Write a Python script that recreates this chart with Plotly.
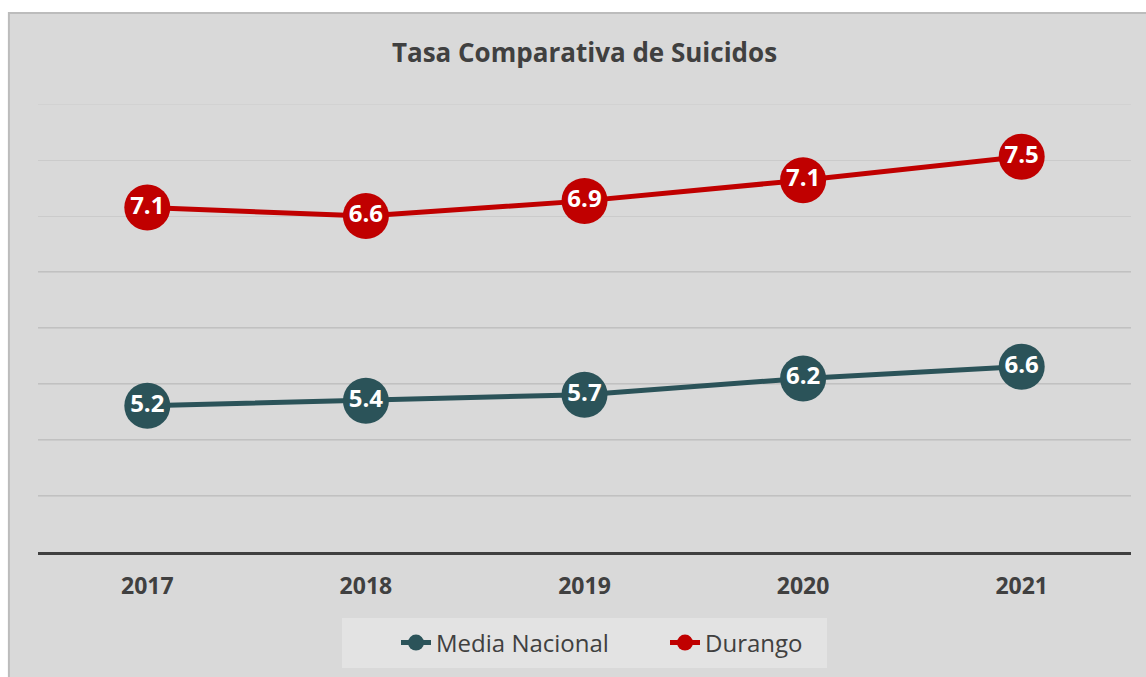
import plotly.graph_objects as go

# ---- data ----
years = ["2017", "2018", "2019", "2020", "2021"]
# values printed in the data labels
media_nacional_labels = [5.2, 5.4, 5.7, 6.2, 6.6]
durango_labels = [7.1, 6.6, 6.9, 7.1, 7.5]
# plotted heights as read against the chart's (hidden) value axis, 0-8
media_nacional_plot = [2.61, 2.70, 2.81, 3.10, 3.31]
durango_plot = [6.15, 6.00, 6.27, 6.64, 7.06]

series_names = ["Media Nacional", "Durango"]
colors = ["#2b5359", "#c00000"]

W, H = 1146, 677
L, R, T, B = 38, 15, 104, 125
pw, ph = W - L - R, H - T - B


def px_x(p):
    return (p - L) / pw


def px_y(p):
    return (H - B - p) / ph


fig = go.Figure()
for name, yv, col in zip(series_names, [media_nacional_plot, durango_plot], colors):
    fig.add_trace(go.Scatter(
        x=years, y=yv, name=name, mode="lines+markers",
        line=dict(color=col, width=5),
        marker=dict(color=col, size=46),
        hoverinfo="skip",
    ))
for yv, lab in zip([media_nacional_plot, durango_plot], [media_nacional_labels, durango_labels]):
    fig.add_trace(go.Scatter(
        x=years, y=yv, mode="text", showlegend=False,
        text=[f"{v:.1f}" for v in lab], textposition="middle center",
        textfont=dict(family="Open Sans", size=24, color="white", weight="bold"),
        hoverinfo="skip",
    ))

shapes = [
    # chart background with border (top/left visible)
    dict(type="rect", xref="paper", yref="paper",
         x0=px_x(8.9), x1=px_x(W + 20), y0=px_y(H + 20), y1=px_y(12.9),
         fillcolor="#d9d9d9", line=dict(color="#bcbcbc", width=2), layer="below"),
    # legend background
    dict(type="rect", xref="paper", yref="paper",
         x0=px_x(342), x1=px_x(827), y0=px_y(668), y1=px_y(618),
         fillcolor="#e3e3e3", line=dict(width=0), layer="below"),
    # top gridline (at the axis maximum)
    dict(type="line", xref="paper", yref="y", x0=0, x1=1, y0=8, y1=8,
         line=dict(color="#cbcbcb", width=1), layer="below"),
]
for g in [1, 2, 3, 4, 5]:
    shapes.append(dict(type="line", xref="paper", yref="y", x0=0, x1=1, y0=g, y1=g,
                       line=dict(color="#a8a8a8", width=1), layer="below"))

fig.update_layout(
    width=W, height=H,
    margin=dict(l=L, r=R, t=T, b=B),
    paper_bgcolor="white",
    plot_bgcolor="rgba(0,0,0,0)",
    title=dict(text="Tasa Comparativa de Suicidos", x=0.5, xref="paper",
               y=1 - 53 / H, yanchor="middle",
               font=dict(family="Open Sans", size=26, color="#404040", weight="bold")),
    xaxis=dict(type="category", range=[-0.5, 4.5], showgrid=False, zeroline=False,
               showline=True, linecolor="#404040", linewidth=3,
               ticks="outside", ticklen=11, tickcolor="rgba(0,0,0,0)",
               tickfont=dict(family="Open Sans", size=23, color="#404040", weight="bold")),
    yaxis=dict(range=[0, 8], dtick=1, showticklabels=False, zeroline=False,
               showgrid=True, gridcolor="#cbcbcb", gridwidth=1, showline=False),
    showlegend=True,
    legend=dict(orientation="h", x=px_x(396), xanchor="left", y=px_y(643), yanchor="middle",
                bgcolor="rgba(0,0,0,0)", entrywidth=224, entrywidthmode="pixels",
                font=dict(family="Open Sans", size=24, color="#404040"),
                itemclick=False, itemdoubleclick=False),
    shapes=shapes,
)

fig.write_html("out.html")
